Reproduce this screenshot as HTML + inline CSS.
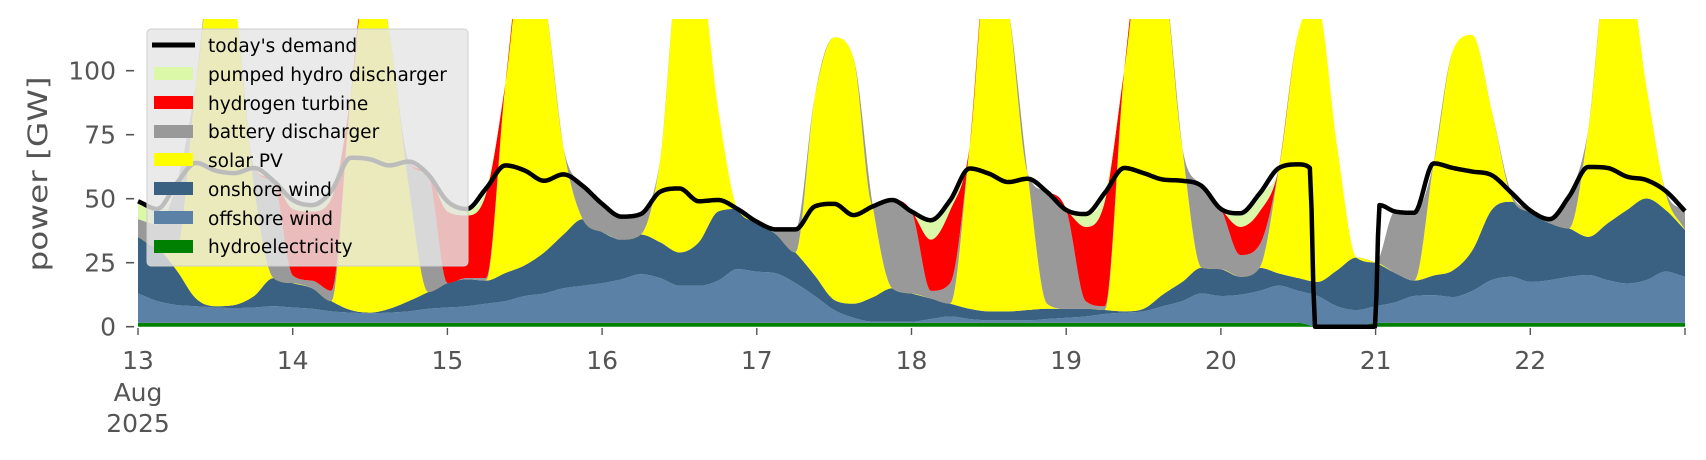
<!DOCTYPE html>
<html><head><meta charset="utf-8"><style>
html,body{margin:0;padding:0;background:#fff;}
svg{display:block;font-family:"DejaVu Sans","Liberation Sans",sans-serif;}
</style></head><body>
<svg id="chart" width="1706" height="460" viewBox="0 0 1706 460" xmlns="http://www.w3.org/2000/svg">
<defs><clipPath id="plotclip"><rect x="138" y="19" width="1547" height="308"/></clipPath></defs>
<g id="areas" clip-path="url(#plotclip)"></g>
<g id="demandg"></g>
<g id="axes"></g>
<text transform="translate(47,174) rotate(-90)" text-anchor="middle" font-size="27" fill="#555" textLength="195" lengthAdjust="spacingAndGlyphs">power [GW]</text>
<g id="legend">
<rect x="147" y="29" width="321" height="237" rx="4" fill="#e5e5e5" fill-opacity="0.82" stroke="#cfcfcf"/>
<line x1="152" y1="45" x2="195" y2="45" stroke="#000" stroke-width="5"/>
<text x="208" y="52" font-size="18.5" fill="#000">today's demand</text>
<rect x="154" y="67" width="39" height="13" fill="#dbf7a8"/>
<text x="208" y="81" font-size="18.5" fill="#000">pumped hydro discharger</text>
<rect x="154" y="96" width="39" height="13" fill="#ff0000"/>
<text x="208" y="110" font-size="18.5" fill="#000">hydrogen turbine</text>
<rect x="154" y="125" width="39" height="13" fill="#999999"/>
<text x="208" y="138" font-size="18.5" fill="#000">battery discharger</text>
<rect x="154" y="153" width="39" height="13" fill="#ffff00"/>
<text x="208" y="167" font-size="18.5" fill="#000">solar PV</text>
<rect x="154" y="182" width="39" height="13" fill="#3b6182"/>
<text x="208" y="196" font-size="18.5" fill="#000">onshore wind</text>
<rect x="154" y="211" width="39" height="13" fill="#5b82a6"/>
<text x="208" y="225" font-size="18.5" fill="#000">offshore wind</text>
<rect x="154" y="240" width="39" height="13" fill="#008000"/>
<text x="208" y="253" font-size="18.5" fill="#000">hydroelectricity</text>
</g>
</svg>
<script>
// hours since 13 Aug 2025 00:00, every 3h
const hours = [];
for (let i = 0; i <= 80; i++) hours.push(i * 3);
const hydro = [1.5,1.5,1.5,1.5,1.5,1.5,1.5,1.5,1.5,1.5,1.5,1.5,1.5,1.5,1.5,1.5,1.5,1.5,1.5,1.5,1.5,1.5,1.5,1.5,1.5,1.5,1.5,1.5,1.5,1.5,1.5,1.5,1.5,1.5,1.5,1.5,1.5,1.5,1.5,1.5,1.5,1.5,1.5,1.5,1.5,1.5,1.5,1.5,1.5,1.5,1.5,1.5,1.5,1.5,1.5,1.5,1.5,1.5,1.5,1.5,1.5,0,0,0,1.5,1.5,1.5,1.5,1.5,1.5,1.5,1.5,1.5,1.5,1.5,1.5,1.5,1.5,1.5,1.5,1.5];
const offshore = [11.5,8.5,7,6.5,6,5.8,6,6.5,6,5.5,4.5,4,3.8,4,4.5,5.5,6,6.5,7.5,8.5,10.5,11.5,13.5,14.5,15.5,17,19,17.5,14.5,14.5,16.5,21,20,19.3,15.5,10.5,5,2,0.5,0.5,0.5,1.5,2.5,1.5,1,1,1,1.5,2,2.5,3.5,4,4.5,6.5,8.5,11.5,10.5,11,12.5,14.5,12.5,12,8,6.5,6.5,8,10.5,10.8,10.1,12.5,16.7,18,16,16.7,18,18.7,16.7,15.4,16.7,20,18];
const onshore = [22,21,13.5,3,0.5,1.2,4.5,11,9.5,8,4,1,0.2,1.5,4,6.5,9.5,10.5,9,11,12,16,21,26,20,15.5,15.5,14,13,17,27,23.5,19.5,15.2,12,8,4,5.5,9.5,13,11,8,5,4,3.5,3.5,4,4,3.5,3,1.5,0.5,1,4.6,7.5,10,10.5,7,9,4.8,5,5.5,14,20.5,17,11.5,6,7.7,10.4,15.8,27.4,29.3,27,22.2,18.9,14.9,22.2,28.7,31.9,24.1,18.3];
const solar = [0,0,9,84,142,119.5,43,0,0,0,0,83.5,144.5,108,45,0,0,0,0,74,126,101,34,0,0,0,0,32,111,107,40,0,0,0,0,70,102.5,96,35.5,0,0,0,0,63,144,119,53.5,2,0,0,0,94,143,127.4,52.5,0,0,0,0,41.2,96,107.5,49,0,0,0,0,43.8,86,84.2,39,2.2,0,0,0,41.9,99.6,94.4,43.9,6.4,0];
const battery = [7,9,25,0,0,0,7,38,3,3,4,0,0,0,9.5,46,0,0.5,1,0,0,0,0,13,11,9,8,0,0,0,0,0,0,2,9,0,0,0,0,34.5,32,3,8,0,0,0,0,43.7,38.6,3,1.5,0,0,0,0,32,23.5,8.5,9,0,0,0,0,0,0,24,26.5,0,0,0,0,1.5,0.9,1.6,12.4,0,0,0,0,1,7.4];
const hydrogen = [0,0,0,0,0,0,0,0,26,27,36,0,0,0,0,0,28,24.5,33,0,0,0,0,0,0,0,0,0,0,0,0,0,0,0,0,0,0,0,0,0,0,20,28.5,0,0,0,0,0,0,29,41,0,0,0,0,0,0,11,13,0,0,0,0,0,0,0,0,0,0,0,0,0,0,0,0,0,0,0,0,0,0];
const pumpedHydro = [6,5,0,0,0,0,0,0,3.5,2.5,3,0,0,0,0,0,4,2.5,2,0,0,0,0,0,0,0,0,0,0,0,0,0,0,0,0,0,0,0,0,0,0,7.6,3.9,0,0,0,0,0,0,5,3.3,0,0,0,0,0,0,5.3,7,0,0,0,0,0,0,0,0,0,0,0,0,0,0,0,0,0,0,0,0,0,0];
const demandHours = [0,3,6,9,12,15,18,21,24,27,30,33,36,39,42,45,48,51,54,57,60,63,66,69,72,75,78,81,84,87,90,93,96,99,102,105,108,111,114,117,120,123,126,129,132,135,138,141,144,147,150,153,156,159,162,165,168,171,174,177,180,181.8,182.6,186,189,191.9,192.6,195,198,201,204,207,210,213,216,219,222,225,228,231,234,237,240];
const demand = [49,46,56,64,61,60,62,57,49.5,47.5,53,66,65.4,63,64.5,59.5,49,46,54,63,61,57,59.5,55,48,43,44,52.7,54,49,49.5,46,41,38,38,47,48,43.6,47,49.5,45,41.6,49.4,61.8,59.8,56.5,57.8,52.7,45.6,44,52.3,62,60,57.5,57,55,46,44.3,52,62,63.4,62,0,0,0,0,47.5,45,44.5,63.8,62,60.6,59.2,52.5,45.4,42,50.8,62.4,62,58.6,57.3,53,45.2];
const yTicks = [0,25,50,75,100];
const dayLabels = ["13","14","15","16","17","18","19","20","21","22"];

const NS = "http://www.w3.org/2000/svg";
const X0 = 138, X1 = 1685, Y0 = 326.7, YPER = 2.56;
function xs(h){ return X0 + h * (X1 - X0) / 240; }
function ys(v){ return Y0 - v * YPER; }

// monotone cubic (Fritsch-Carlson) evaluation for smooth drawing
function monotone(xv, yv){
  const n = xv.length, d = [], m = new Array(n);
  for (let i = 0; i < n-1; i++) d.push((yv[i+1]-yv[i])/(xv[i+1]-xv[i]));
  m[0] = d[0]; m[n-1] = d[n-2];
  for (let i = 1; i < n-1; i++) m[i] = (d[i-1]*d[i] <= 0) ? 0 : (d[i-1]+d[i])/2;
  for (let i = 0; i < n-1; i++) {
    if (d[i] === 0) { m[i] = 0; m[i+1] = 0; continue; }
    const a = m[i]/d[i], b = m[i+1]/d[i], s = a*a + b*b;
    if (s > 9) { const t = 3/Math.sqrt(s); m[i] = t*a*d[i]; m[i+1] = t*b*d[i]; }
  }
  return function(x){
    let i = 0;
    while (i < n-2 && x > xv[i+1]) i++;
    const h = xv[i+1]-xv[i], t = (x-xv[i])/h, t2 = t*t, t3 = t2*t;
    return (2*t3-3*t2+1)*yv[i] + (t3-2*t2+t)*h*m[i] + (-2*t3+3*t2)*yv[i+1] + (t3-t2)*h*m[i+1];
  };
}
function sampleGrid(xv){
  const g = [];
  for (let i = 0; i < xv.length-1; i++) {
    const steps = Math.max(1, Math.round((xv[i+1]-xv[i]) / 0.25));
    for (let k = 0; k < steps; k++) g.push(xv[i] + (xv[i+1]-xv[i])*k/steps);
  }
  g.push(xv[xv.length-1]);
  return g;
}

const series = [
  {name:'hydroelectricity', vals:hydro, color:'#008000'},
  {name:'offshore-wind', vals:offshore, color:'#5b82a6'},
  {name:'onshore-wind', vals:onshore, color:'#3b6182'},
  {name:'solar-pv', vals:solar, color:'#ffff00'},
  {name:'battery-discharger', vals:battery, color:'#999999'},
  {name:'hydrogen-turbine', vals:hydrogen, color:'#ff0000'},
  {name:'pumped-hydro-discharger', vals:pumpedHydro, color:'#dbf7a8'}
];
const grid = sampleGrid(hours);
const areas = document.getElementById('areas');
let base = hours.map(() => 0);
let baseFn = () => 0;
series.forEach(s => {
  const top = base.map((b, i) => b + s.vals[i]);
  const topFn = monotone(hours, top);
  const lowFn = baseFn;
  let pts = [];
  grid.forEach(h => pts.push(xs(h).toFixed(2) + ',' + ys(topFn(h)).toFixed(2)));
  for (let i = grid.length - 1; i >= 0; i--) pts.push(xs(grid[i]).toFixed(2) + ',' + ys(lowFn(grid[i])).toFixed(2));
  const p = document.createElementNS(NS, 'polygon');
  p.setAttribute('points', pts.join(' '));
  p.setAttribute('fill', s.color);
  
  
  areas.appendChild(p);
  base = top;
  baseFn = topFn;
});

const dg = document.getElementById('demandg');
const dFn = monotone(demandHours, demand);
const dGrid = sampleGrid(demandHours);
const dl = document.createElementNS(NS, 'polyline');
dl.setAttribute('points', dGrid.map(h => xs(h).toFixed(2) + ',' + ys(dFn(h)).toFixed(2)).join(' '));
dl.setAttribute('fill', 'none');
dl.setAttribute('stroke', '#000');
dl.setAttribute('stroke-width', '4.5');
dl.setAttribute('stroke-linejoin', 'round');


dg.appendChild(dl);

const ax = document.getElementById('axes');
yTicks.forEach(v => {
  const t = document.createElementNS(NS, 'line');
  t.setAttribute('x1', 126); t.setAttribute('x2', 134);
  t.setAttribute('y1', ys(v)); t.setAttribute('y2', ys(v));
  t.setAttribute('stroke', '#555'); t.setAttribute('stroke-width', '1.6');
  
  
  ax.appendChild(t);
  const l = document.createElementNS(NS, 'text');
  l.setAttribute('x', 116); l.setAttribute('y', ys(v) + 9);
  l.setAttribute('text-anchor', 'end'); l.setAttribute('font-size', '25'); l.setAttribute('fill', '#555');
  l.textContent = v;
  
  
  ax.appendChild(l);
});
for (let k = 0; k <= 10; k++) {
  const x = xs(k * 24);
  const t = document.createElementNS(NS, 'line');
  t.setAttribute('x1', x); t.setAttribute('x2', x);
  t.setAttribute('y1', 328); t.setAttribute('y2', 335);
  t.setAttribute('stroke', '#555'); t.setAttribute('stroke-width', '1.4');
  
  
  ax.appendChild(t);
  if (k < dayLabels.length) {
    const l = document.createElementNS(NS, 'text');
    l.setAttribute('x', x); l.setAttribute('y', 369);
    l.setAttribute('text-anchor', 'middle'); l.setAttribute('font-size', '25'); l.setAttribute('fill', '#555');
    l.textContent = dayLabels[k];
    
    
    ax.appendChild(l);
  }
}
[['Aug', 401], ['2025', 432]].forEach(([txt, y]) => {
  const l = document.createElementNS(NS, 'text');
  l.setAttribute('x', xs(0)); l.setAttribute('y', y);
  l.setAttribute('text-anchor', 'middle'); l.setAttribute('font-size', '25'); l.setAttribute('fill', '#555');
  l.textContent = txt;
  
  
  ax.appendChild(l);
});
</script>
</body></html>
